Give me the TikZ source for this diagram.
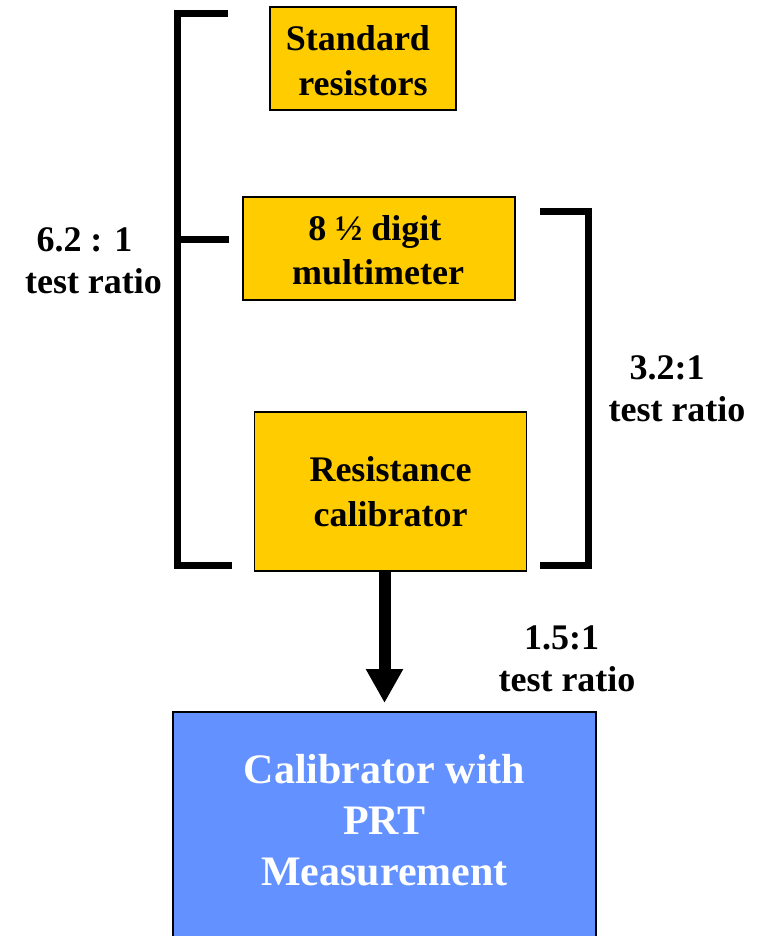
\documentclass[tikz,border=0pt]{standalone}
\usepackage{fontspec}
\setmainfont{Liberation Serif}
\usetikzlibrary{arrows.meta}
\definecolor{boxyellow}{HTML}{FFCC00}
\definecolor{boxblue}{HTML}{6391FF}
\begin{document}
\begin{tikzpicture}[x=1pt,y=-1pt,
  ybox/.style={draw=black, line width=1.5pt, fill=boxyellow, align=center, inner sep=0pt,
    font=\fontsize{36}{45}\selectfont\bfseries},
  lbl/.style={align=center, inner sep=0pt, font=\fontsize{36}{42}\selectfont\bfseries},
  brk/.style={line width=7pt, line join=miter},
  bigarrow/.style={line width=12pt, -{Triangle[width=35pt,length=34pt]}}]
\path[use as bounding box, clip] (0,0) rectangle (764,936);
\fill[white] (0,0) rectangle (764,936);

\node[ybox, minimum width=186pt, minimum height=103pt] (std) at (363,58.5) {};
\node[align=center, inner sep=0pt, font=\fontsize{36}{45}\selectfont\bfseries] (stdtxt) at (363,60.5) {Standard\hspace*{10pt}\\resistors};
\node[ybox, minimum width=272pt, minimum height=103pt] (dmm) at (379,248.5) {};
\node[align=center, inner sep=0pt, font=\fontsize{36}{44}\selectfont\bfseries] (dmmtxt) at (378,250.5) {8 ½ digit\hspace*{6pt}\\multimeter};
\node[ybox, minimum width=272pt, minimum height=159pt] (resist) at (390.5,491.5) {Resistance\\calibrator};
\node[draw=black, line width=1.5pt, fill=boxblue, minimum width=423pt, minimum height=260pt, anchor=north, inner sep=0pt] (calib) at (384.5,711) {};
\node[align=center, inner sep=0pt, text=white, font=\fontsize{42}{51}\selectfont\bfseries] (calibtxt) at (384.5,820) {Calibrator with\\PRT\\Measurement};

\coordinate (lt) at (228,14);
\coordinate (lc) at (177,14);
\coordinate (lb) at (177,565);
\coordinate (le) at (232,565);
\coordinate (lm) at (177,239);
\coordinate (lme) at (229,239);
\draw[brk] (lt) -- (lc) -- (lb) -- (le);
\draw[brk] (lm) -- (lme);

\coordinate (rt) at (540,211);
\coordinate (rc) at (588,211);
\coordinate (rb) at (588,565);
\coordinate (re) at (540,565);
\draw[brk] (rt) -- (rc) -- (rb) -- (re);

\draw[bigarrow, shorten >=8pt] (resist.south -| calib.north) -- (calib.north);

\node[lbl] (l62) at (93.5,261) {6.2 : 1\hspace*{18pt}\\test ratio};
\node[lbl] (l32) at (677,389) {3.2:1\hspace*{20pt}\\test ratio};
\node[lbl] (l15) at (567,659) {1.5:1\hspace*{11pt}\\test ratio};
\end{tikzpicture}
\end{document}
